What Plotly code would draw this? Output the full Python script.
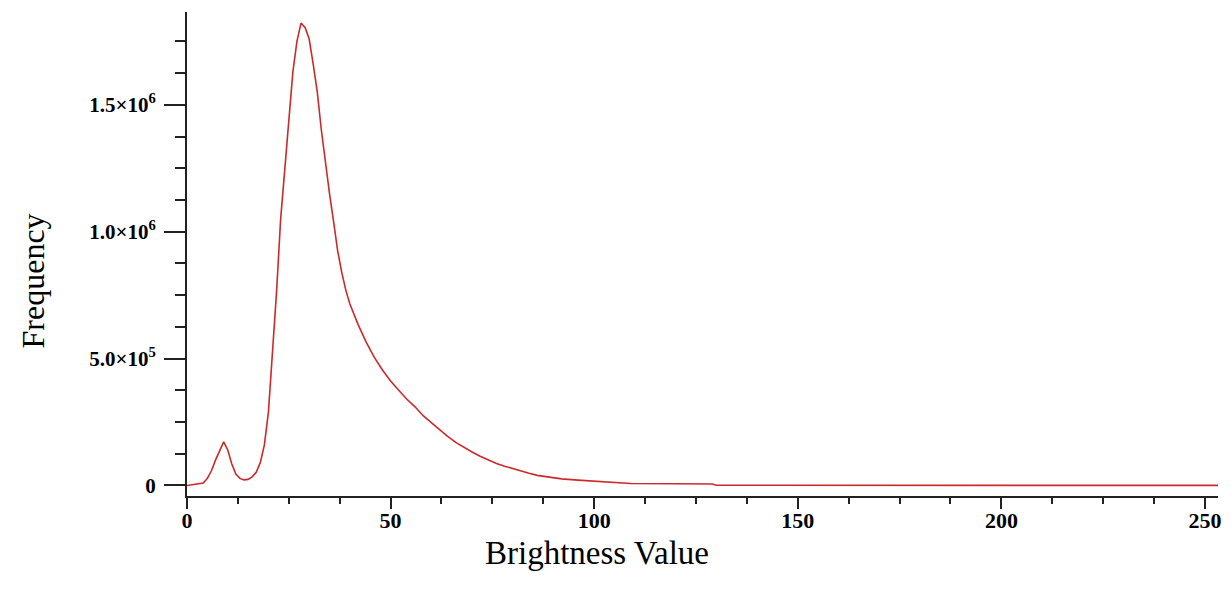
import plotly.graph_objects as go

brightness = [0, 1, 2, 3, 4, 5, 6, 7, 8, 9, 10, 11, 12, 13, 14, 15, 16, 17, 18, 19,
              20, 21, 22, 23, 24, 25, 26, 27, 28, 29, 30, 31, 32, 33, 34, 35, 36, 37,
              38, 39, 40, 42, 44, 46, 48, 50, 52, 54, 56, 58, 60, 62, 64, 66, 68, 70,
              72, 74, 76, 78, 80, 82, 84, 86, 88, 92, 96, 100, 101, 105, 109, 120,
              129, 130, 140, 160, 180, 200, 220, 240, 255]
frequency = [0, 2000, 4000, 6000, 10000, 28000, 58000, 100000, 136000, 172000,
             140000, 85000, 45000, 28000, 22000, 24000, 34000, 52000, 90000, 160000,
             290000, 520000, 765000, 1050000, 1250000, 1450000, 1630000, 1750000,
             1822000, 1805000, 1760000, 1660000, 1550000, 1400000, 1270000, 1150000,
             1040000, 925000, 840000, 770000, 715000, 635000, 565000, 505000, 455000,
             412000, 375000, 340000, 310000, 275000, 248000, 220000, 194000, 170000,
             150000, 132000, 115000, 100000, 87000, 76000, 66000, 56000, 48000, 40000,
             35000, 26000, 21000, 17000, 15000, 11000, 8000, 7000, 6000, 800, 500,
             500, 500, 500, 500, 500, 500]

x_tickvals = [0, 50, 100, 150, 200, 250]
x_ticktext = ["0", "50", "100", "150", "200", "250"]
y_tickvals = [0, 500000, 1000000, 1500000]
y_ticktext = ["0", "5.0×10<sup>5</sup>", "1.0×10<sup>6</sup>", "1.5×10<sup>6</sup>"]

fig = go.Figure()
fig.add_trace(go.Scatter(x=brightness, y=frequency, mode="lines",
                         line=dict(color="#CC2A2A", width=1.6),
                         hoverinfo="skip", showlegend=False))

fig.update_layout(
    width=1231, height=596,
    margin=dict(l=187, r=10, t=12, b=100),
    paper_bgcolor="white", plot_bgcolor="white",
    showlegend=False,
    xaxis=dict(range=[0, 253.2], showgrid=False, zeroline=False,
               showline=True, linecolor="#222222", linewidth=2,
               ticks="outside", ticklen=11, tickwidth=1.5, tickcolor="#222222",
               tickmode="array", tickvals=x_tickvals, ticktext=x_ticktext,
               tickfont=dict(family="Liberation Serif", size=22, color="black", weight="bold"),
               ticklabelstandoff=-7,
               minor=dict(tickmode="linear", tick0=0, dtick=12.5, ticks="outside",
                          ticklen=6, tickwidth=1.5, tickcolor="#222222", showgrid=False)),
    yaxis=dict(range=[-41400, 1866000], showgrid=False, zeroline=False,
               showline=True, linecolor="#222222", linewidth=2,
               ticks="outside", ticklen=21, tickwidth=1.5, tickcolor="#222222",
               tickmode="array", tickvals=y_tickvals, ticktext=y_ticktext,
               tickfont=dict(family="Liberation Serif", size=21, color="black", weight="bold"),
               ticklabelstandoff=4,
               minor=dict(tickmode="linear", tick0=0, dtick=125000, ticks="outside",
                          ticklen=10, tickwidth=1.5, tickcolor="#222222", showgrid=False)),
    annotations=[
        dict(text="Brightness Value", xref="paper", yref="paper",
             x=(598 - 187) / 1034, y=(496 - 553) / 484,
             xanchor="center", yanchor="middle", showarrow=False,
             font=dict(family="Liberation Serif", size=33, color="black")),
        dict(text="Frequency", xref="paper", yref="paper",
             x=(33 - 187) / 1034, y=(496 - 281) / 484, textangle=-90,
             xanchor="center", yanchor="middle", showarrow=False,
             font=dict(family="Liberation Serif", size=32, color="black")),
    ],
)

fig.write_html("out.html")
